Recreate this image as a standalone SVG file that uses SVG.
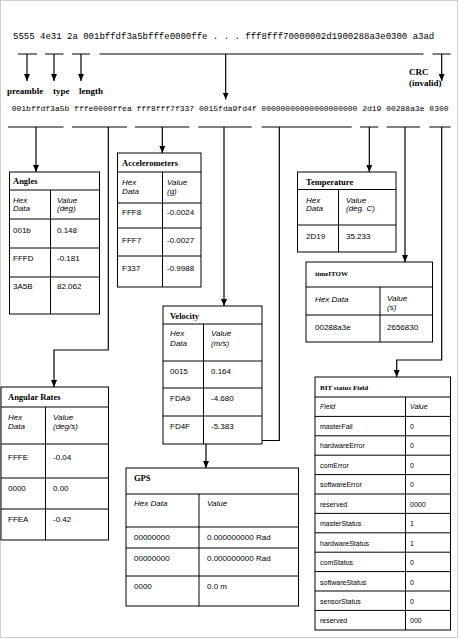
<svg xmlns="http://www.w3.org/2000/svg" width="460" height="639" viewBox="0 0 460 639">
<style>
.mono{font-family:"Liberation Mono","DejaVu Sans Mono",monospace;fill:#000}
.lbl{font-family:"Liberation Serif","Times New Roman",serif;font-weight:bold;font-size:9px;fill:#000}
.ttl{font-family:"Liberation Serif","Times New Roman",serif;font-weight:bold;font-size:8.5px;fill:#000}
.ttls{font-family:"Liberation Serif","Times New Roman",serif;font-weight:bold;font-size:7px;fill:#000}
.c{font-family:"Liberation Sans",Arial,sans-serif;font-size:8px;fill:#000}
.cs{font-family:"Liberation Sans",Arial,sans-serif;font-size:7px;fill:#000}
.i{font-style:italic}
.box{fill:#fff;stroke:#000;stroke-width:1}
.ln{stroke:#000;stroke-width:1;fill:none}
.ar{stroke:#000;stroke-width:1.2;fill:none;marker-end:url(#ah)}
</style>
<defs>
<marker id="ah" markerUnits="userSpaceOnUse" markerWidth="6" markerHeight="7" refX="3" refY="7" orient="0" viewBox="0 0 6 7">
<path d="M0,0 L6,0 L3,7 z" fill="#000"/>
</marker>
</defs>
<rect x="0.5" y="0.5" width="457" height="637" fill="#fff" stroke="#cfcfcf" stroke-width="1"/>

<g id="stream">
<text class="mono" x="13" y="38.5" font-size="9">5555 4e31 2a 001bffdf3a5bfffe0000ffe . . . fff8fff70000002d1900288a3e0300 a3ad</text>
<text class="mono" x="11.7" y="110.5" font-size="8">001bffdf3a5b fffe0000ffea fff8fff7f337 0015fda9fd4f 00000000000000000000 2d19 00288a3e 0300</text>
</g>

<g id="labels">
<text class="lbl" x="7" y="94">preamble</text>
<text class="lbl" x="53" y="94">type</text>
<text class="lbl" x="79" y="94">length</text>
<text class="lbl" x="409" y="75">CRC</text>
<text class="lbl" x="409" y="86">(invalid)</text>
</g>

<g id="connectors">
<line class="ln" x1="18" y1="54" x2="37" y2="54"/>
<line class="ar" x1="27" y1="54" x2="27" y2="81"/>
<line class="ln" x1="45" y1="54" x2="63.5" y2="54"/>
<line class="ar" x1="54" y1="54" x2="54" y2="81"/>
<line class="ln" x1="72" y1="54" x2="90" y2="54"/>
<line class="ar" x1="81" y1="54" x2="81" y2="81"/>
<line class="ln" x1="99.5" y1="54" x2="423.5" y2="54"/>
<line class="ar" x1="225.7" y1="54" x2="225.7" y2="99.5"/>
<line class="ln" x1="432.5" y1="54" x2="450.7" y2="54"/>
<line class="ar" x1="441.7" y1="54" x2="441.7" y2="81"/>

<line class="ln" x1="8" y1="127" x2="63.5" y2="127"/>
<line class="ar" x1="36" y1="127" x2="36" y2="172"/>
<line class="ln" x1="72" y1="127" x2="127" y2="127"/>
<polyline class="ar" points="108.3,127 108.3,350 54,350 54,387"/>
<line class="ln" x1="135" y1="127" x2="189.3" y2="127"/>
<line class="ar" x1="162.3" y1="127" x2="162.3" y2="153"/>
<line class="ln" x1="198.3" y1="127" x2="251.7" y2="127"/>
<line class="ar" x1="224" y1="127" x2="224" y2="306"/>
<line class="ln" x1="261.7" y1="127" x2="351.7" y2="127"/>
<polyline class="ar" points="279.3,127 279.3,440.5 206,440.5 206,468"/>
<line class="ln" x1="360" y1="127" x2="378.3" y2="127"/>
<line class="ar" x1="369.3" y1="127" x2="369.3" y2="172"/>
<line class="ln" x1="386.7" y1="127" x2="420" y2="127"/>
<line class="ar" x1="405" y1="127" x2="405" y2="262"/>
<line class="ln" x1="429.3" y1="127" x2="450.7" y2="127"/>
<polyline class="ar" points="441.7,127 441.7,360 396.7,360 396.7,377"/>
</g>

<g id="angles">
<rect class="box" x="9.5" y="172" width="90" height="142"/>
<path class="ln" d="M9.5,190H99.5M9.5,219H99.5M9.5,248H99.5M9.5,277H99.5M50.5,190V314"/>
<text class="ttl" x="13" y="184">Angles</text>
<text class="c i" x="13" y="202.5">Hex</text><text class="c i" x="13" y="211">Data</text>
<text class="c i" x="57" y="202.5">Value</text><text class="c i" x="57" y="211">(deg)</text>
<text class="c" x="13" y="232.5">001b</text><text class="c" x="57" y="232.5">0.148</text>
<text class="c" x="13" y="260.5">FFFD</text><text class="c" x="57" y="260.5">-0.181</text>
<text class="c" x="13" y="288.5">3A5B</text><text class="c" x="57" y="288.5">82.062</text>
</g>

<g id="accelerometers">
<rect class="box" x="117.5" y="153" width="83.5" height="134"/>
<path class="ln" d="M117.5,172H201M117.5,203H201M117.5,228H201M117.5,256H201M162.5,172V287"/>
<text class="ttl" x="122" y="166">Accelerometers</text>
<text class="c i" x="122" y="185">Hex</text><text class="c i" x="122" y="193.5">Data</text>
<text class="c i" x="167" y="185">Value</text><text class="c i" x="167" y="193.5">(g)</text>
<text class="c" x="122" y="214.5">FFF8</text><text class="c" x="167" y="214.5">-0.0024</text>
<text class="c" x="122" y="242.5">FFF7</text><text class="c" x="167" y="242.5">-0.0027</text>
<text class="c" x="122" y="270.5">F337</text><text class="c" x="167" y="270.5">-0.9988</text>
</g>

<g id="temperature">
<rect class="box" x="297.5" y="172" width="98.5" height="80"/>
<path class="ln" d="M297.5,189.5H396M297.5,225H396M338.5,189.5V252"/>
<text class="ttl" x="306" y="184.5">Temperature</text>
<text class="c i" x="306" y="202.5">Hex</text><text class="c i" x="306" y="210.5">Data</text>
<text class="c i" x="346" y="202.5">Value</text><text class="c i" x="346" y="210.5">(deg. C)</text>
<text class="c" x="306" y="238.5">2D19</text><text class="c" x="346" y="238.5">35.233</text>
</g>

<g id="timeITOW">
<rect class="box" x="306" y="262" width="126.5" height="80"/>
<path class="ln" d="M306,287H432.5M306,315H432.5M380,287V342"/>
<text class="ttls" x="315" y="276">timeITOW</text>
<text class="c i" x="315" y="302">Hex Data</text>
<text class="c i" x="387" y="301">Value</text><text class="c i" x="387" y="309.5">(s)</text>
<text class="c" x="315" y="329.5">00288a3e</text><text class="c" x="387" y="329.5">2656830</text>
</g>

<g id="velocity">
<rect class="box" x="163" y="306" width="99" height="138"/>
<path class="ln" d="M163,324H262M163,361H262M163,388H262M163,416H262M203.5,324V444"/>
<text class="ttl" x="170" y="318.5">Velocity</text>
<text class="c i" x="170" y="336">Hex</text><text class="c i" x="170" y="346">Data</text>
<text class="c i" x="211" y="336">Value</text><text class="c i" x="211" y="346">(m/s)</text>
<text class="c" x="170" y="373.5">0015</text><text class="c" x="211" y="373.5">0.164</text>
<text class="c" x="170" y="401">FDA9</text><text class="c" x="211" y="401">-4.680</text>
<text class="c" x="170" y="429">FD4F</text><text class="c" x="211" y="429">-5.383</text>
</g>

<g id="angularRates">
<rect class="box" x="1" y="387" width="107.5" height="153"/>
<path class="ln" d="M1,407H108.5M1,444H108.5M1,478H108.5M1,509H108.5M45.5,407V540"/>
<text class="ttl" x="8" y="400">Angular Rates</text>
<text class="c i" x="8" y="419.5">Hex</text><text class="c i" x="8" y="428.5">Data</text>
<text class="c i" x="53" y="419.5">Value</text><text class="c i" x="53" y="428.5">(deg/s)</text>
<text class="c" x="8" y="460">FFFE</text><text class="c" x="53" y="460">-0.04</text>
<text class="c" x="8" y="491">0000</text><text class="c" x="53" y="491">0.00</text>
<text class="c" x="8" y="522">FFEA</text><text class="c" x="53" y="522">-0.42</text>
</g>

<g id="gps">
<rect class="box" x="126" y="468" width="172.5" height="138"/>
<path class="ln" d="M126,494H298.5M126,527H298.5M126,548H298.5M126,576H298.5M199,494V606"/>
<text class="ttl" x="134" y="481">GPS</text>
<text class="c i" x="134" y="505.5">Hex Data</text><text class="c i" x="207" y="505.5">Value</text>
<text class="c" x="134" y="539.5">00000000</text><text class="c" x="207" y="539.5">0.000000000 Rad</text>
<text class="c" x="134" y="561">00000000</text><text class="c" x="207" y="561">0.000000000 Rad</text>
<text class="c" x="134" y="589">0000</text><text class="c" x="207" y="589">0.0 m</text>
</g>

<g id="bitStatus">
<rect class="box" x="315" y="377" width="135.5" height="253"/>
<path class="ln" d="M315,397H450.5M315,416.4H450.5M315,435.8H450.5M315,455.2H450.5M315,474.6H450.5M315,494H450.5M315,513.4H450.5M315,532.8H450.5M315,552.2H450.5M315,571.6H450.5M315,591H450.5M315,610.4H450.5M405.5,397V630"/>
<text class="ttls" x="320" y="389.5">BIT status Field</text>
<text class="cs i" x="320" y="409">Field</text><text class="cs i" x="410" y="409">Value</text>
<text class="cs" x="320" y="428.5">masterFail</text><text class="cs" x="410" y="428.5">0</text>
<text class="cs" x="320" y="448">hardwareError</text><text class="cs" x="410" y="448">0</text>
<text class="cs" x="320" y="467.5">comError</text><text class="cs" x="410" y="467.5">0</text>
<text class="cs" x="320" y="487">softwareError</text><text class="cs" x="410" y="487">0</text>
<text class="cs" x="320" y="506.5">reserved</text><text class="cs" x="410" y="506.5">0000</text>
<text class="cs" x="320" y="526">masterStatus</text><text class="cs" x="410" y="526">1</text>
<text class="cs" x="320" y="545.5">hardwareStatus</text><text class="cs" x="410" y="545.5">1</text>
<text class="cs" x="320" y="565">comStatus</text><text class="cs" x="410" y="565">0</text>
<text class="cs" x="320" y="584.5">softwareStatus</text><text class="cs" x="410" y="584.5">0</text>
<text class="cs" x="320" y="604">sensorStatus</text><text class="cs" x="410" y="604">0</text>
<text class="cs" x="320" y="623">reserved</text><text class="cs" x="410" y="623">000</text>
</g>
</svg>
